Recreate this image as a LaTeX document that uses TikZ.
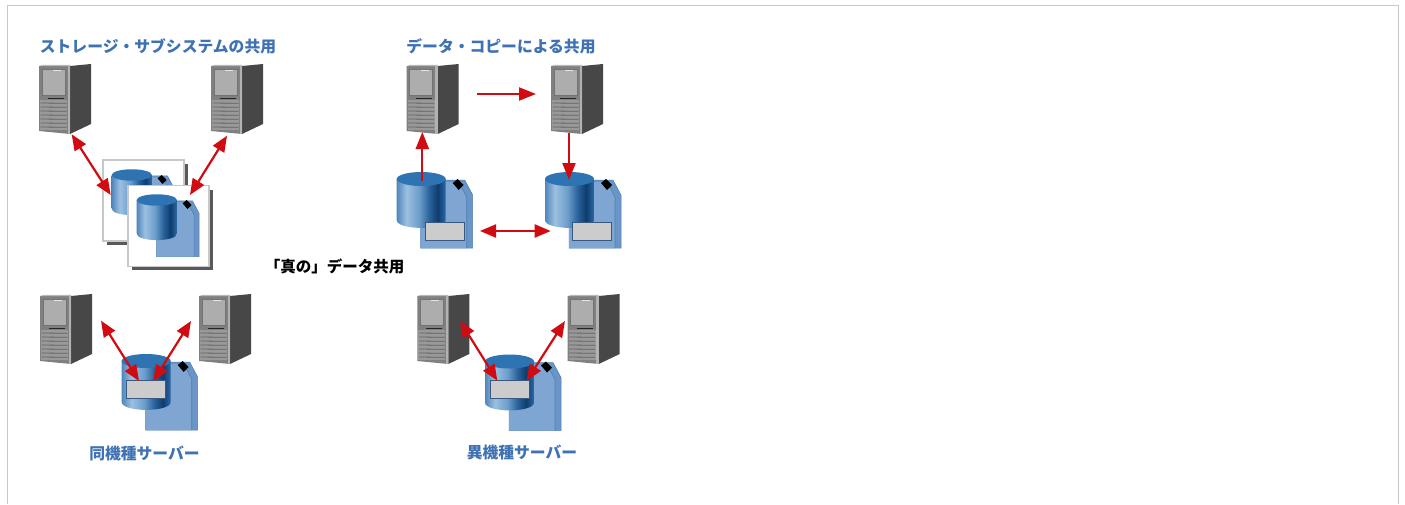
\documentclass[tikz,border=0pt]{standalone}
\usepackage{fontspec}
\usetikzlibrary{arrows.meta}
\newfontfamily\jpfont{Noto Sans CJK JP}
\definecolor{framegray}{HTML}{C8C8C8}
\definecolor{headblue}{HTML}{3F72B4}
\definecolor{arrowred}{HTML}{D00C12}
\definecolor{docface}{HTML}{7FA6D2}
\definecolor{docside}{HTML}{6A95C6}
\definecolor{docedge}{HTML}{4E7FB5}
\definecolor{cyltop}{HTML}{2F74B2}
\definecolor{cyl0}{HTML}{4F86BC}
\definecolor{cyl1}{HTML}{9CC0E0}
\definecolor{cyl2}{HTML}{6C9DCB}
\definecolor{cyl3}{HTML}{2A639C}
\definecolor{cyl4}{HTML}{0F3C6E}
\definecolor{cyl5}{HTML}{2A6AA5}
\pgfdeclarehorizontalshading{cylshade}{100bp}{
  color(0bp)=(cyl0); color(25bp)=(cyl0); color(35bp)=(cyl1); color(48bp)=(cyl2);
  color(58bp)=(cyl3); color(67bp)=(cyl4); color(75bp)=(cyl5); color(100bp)=(cyl5)}
\tikzset{
  headtext/.style={font=\jpfont\bfseries\fontsize{15.8}{18}\selectfont,text=headblue,inner sep=0pt},
  blacktext/.style={font=\jpfont\bfseries\fontsize{15.5}{18}\selectfont,text=black,inner sep=0pt},
  oneway/.style={draw=arrowred,line width=2.2pt,-{Triangle[length=17pt,width=13pt]}},
  twoway/.style={draw=arrowred,line width=2.2pt,{Triangle[length=16pt,width=13pt]}-{Triangle[length=16pt,width=13pt]}},
  sheet/.style={fill=white,draw=framegray,line width=1.2pt},
  sheetshadow/.style={fill=black!65},
  labelbox/.style={fill=black!20,draw=docedge!70!black,line width=.8pt},
}
% \serverbox{name}{left}{top}
\newcommand\serverbox[3]{
  \begin{scope}[shift={(#2,#3)}]
    \node[inner sep=0pt,minimum width=52pt,minimum height=70pt] (#1) at (26,35) {};
    \fill[black!72] (31,2) -- (52,0) -- (52,60) -- (31,70) -- cycle;
    \fill[black!50] (0,2) -- (31,2) -- (31,70) -- (0,67) -- cycle;
    \fill[black!28] (0,2) -- (4,0.8) -- (31,0.8) -- (31,2) -- cycle;
    \fill[black!30] (28.5,2) rectangle (31,70);
    \fill[black!32] (3,5) rectangle (26,31);
    \draw[black!55,line width=.5pt] (3,5) rectangle (26,31);
    \draw[black!10,line width=1pt] (14,6.5) -- (22,6.5);
    \draw[black!85,line width=1pt] (9,34) -- (25,34);
    \fill[black!40] (1,36) rectangle (28,66);
    \foreach \sy in {39,43,...,65}{\draw[black!62,line width=.8pt] (1.5,\sy) -- (27.5,\sy+.3);}
  \end{scope}
}
% \dbicon{name}{left}{top-centre y}{scale}
\newcommand\dbicon[4]{
  \begin{scope}[shift={(#2,#3)},scale=#4]
    \node[inner sep=0pt,minimum width=76pt,minimum height=76pt] (#1) at (38,31) {};
    \fill[docside,draw=docedge,line width=.5pt] (40,1) -- (68,1) -- (76,16) -- (76,69) -- (24,69) -- (24,30) -- cycle;
    \fill[docface] (40,3) -- (62,3) -- (70,18) -- (70,69) -- (24,69) -- (24,30) -- cycle;
    \draw[docedge,line width=.6pt] (62,3) -- (70,18) -- (70,69);
    \fill[black] (56,4) -- (61,0) -- (67,6) -- (62,11) -- cycle;
    \shade[shading=cylshade,shading angle=0] (0,0) -- (0,41) .. controls (0,51.5) and (49,51.5) .. (49,41) -- (49,0) -- cycle;
    \fill[cyltop] (24.5,0) ellipse [x radius=24.5,y radius=7];
  \end{scope}
}
\begin{document}
\begin{tikzpicture}[x=1pt,y=-1pt]
\useasboundingbox (0,0) rectangle (1405,504);
\fill[white] (0,0) rectangle (1405,504);
\draw[framegray,line width=1pt] (7.5,504) -- (7.5,5.5) -- (1398.5,5.5) -- (1398.5,504);

% headings
\node[headtext] (t1) at (158,46) {ストレージ・サブシステムの共用};
\node[headtext] (t2) at (501,46) {データ・コピーによる共用};
\node[blacktext] (t3) at (334.5,266) {「真の」データ共用};
\node[headtext] (t4) at (144.5,453) {同機種サーバー};
\node[headtext] (t5) at (522,453) {異機種サーバー};

% panel 1
\serverbox{s1a}{39}{64}
\serverbox{s1b}{211}{64}
\fill[sheetshadow] (106.5,164) rectangle (188,245);
\node[sheet,inner sep=0pt,minimum width=81pt,minimum height=81pt] (sh1) at (143.5,200.5) {};
\dbicon{d1a}{111.7}{175}{.82}
\fill[sheetshadow] (132,190) rectangle (213,270);
\node[sheet,inner sep=0pt,minimum width=81pt,minimum height=81pt] (sh2) at (168.5,226) {};
\dbicon{d1b}{136.7}{200}{.82}

% panel 2
\serverbox{s2a}{406.7}{64}
\serverbox{s2b}{551}{64}
\dbicon{d2a}{396.7}{179}{1}
\node[labelbox,inner sep=0pt,minimum width=39pt,minimum height=18pt] (l2a) at (445.3,231) {};
\dbicon{d2b}{545}{179}{1}
\node[labelbox,inner sep=0pt,minimum width=39pt,minimum height=18pt] (l2b) at (592.2,231) {};

% panel 3
\serverbox{s3a}{40}{294}
\serverbox{s3b}{199}{294}
\dbicon{d3}{121.7}{361}{1}
\node[labelbox,inner sep=0pt,minimum width=39pt,minimum height=18pt] (l3) at (146.2,389) {};

% panel 4
\serverbox{s4a}{417.3}{294}
\serverbox{s4b}{567.7}{294}
\dbicon{d4}{485}{361.5}{1}
\node[labelbox,inner sep=0pt,minimum width=39pt,minimum height=18pt] (l4) at (509.5,389) {};

% connector ends
\coordinate (a1) at (71.7,134.3);  \coordinate (a2) at (110.7,195);
\coordinate (b1) at (227,135.7);   \coordinate (b2) at (190,195);
\coordinate (c1) at (477.3,94);    \coordinate (c2) at (536,94);
\coordinate (e1) at (422.3,181);   \coordinate (e2) at (422.3,132);
\coordinate (f1) at (569,133);     \coordinate (f2) at (569,180);
\coordinate (g1) at (480,231);     \coordinate (g2) at (550.7,231);
\coordinate (h1) at (101,320.7);   \coordinate (h2) at (139,381);
\coordinate (i1) at (191,321);     \coordinate (i2) at (153.3,381);
\coordinate (j1) at (460,321);     \coordinate (j2) at (497.3,380.7);
\coordinate (k1) at (565,321);     \coordinate (k2) at (526.7,380.7);

\draw[twoway] (a1) -- (a2);
\draw[twoway] (b1) -- (b2);
\draw[oneway] (c1) -- (c2);
\draw[oneway] (e1) -- (e2);
\draw[oneway] (f1) -- (f2);
\draw[twoway] (g1) -- (g2);
\draw[twoway] (h1) -- (h2);
\draw[twoway] (i1) -- (i2);
\draw[twoway] (j1) -- (j2);
\draw[twoway] (k1) -- (k2);
\end{tikzpicture}
\end{document}
